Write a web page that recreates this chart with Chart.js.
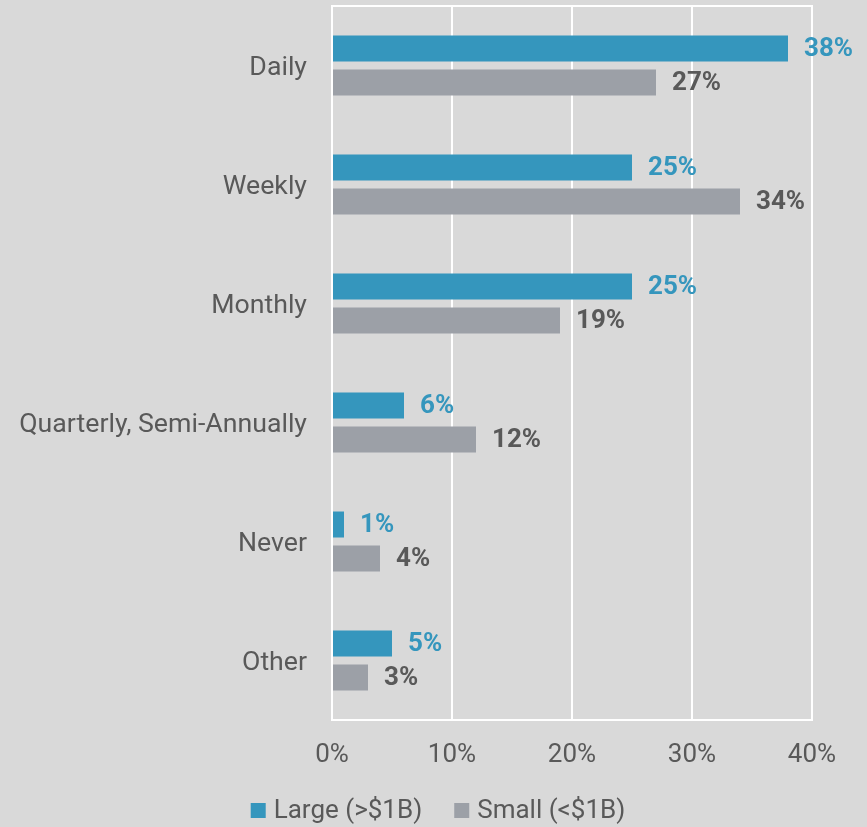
<!DOCTYPE html>
<html>
<head>
<meta charset="utf-8">
<script src="https://cdn.jsdelivr.net/npm/chart.js@4"></script>
<style>
  html, body { margin: 0; padding: 0; background: #d9d9d9; }
  #wrap { width: 867px; height: 827px; }
</style>
</head>
<body>
<div id="wrap"><canvas id="c" width="867" height="827"></canvas></div>
<script>
const categories = ['Daily', 'Weekly', 'Monthly', 'Quarterly, Semi-Annually', 'Never', 'Other'];
const largeValues = [38, 25, 25, 6, 1, 5];
const smallValues = [27, 34, 19, 12, 4, 3];
const seriesNames = ['Large (>$1B)', 'Small (<$1B)'];
const xTicks = [0, 10, 20, 30, 40];

const FONT = 'Roboto, "Noto Sans", sans-serif';
const TEXT = '#595959';
const BLUE = '#3596bd';
const GREY = '#9ca0a7';

// Writes each bar's value at its right end, in the series colour.
const valueLabels = {
  id: 'valueLabels',
  afterDatasetsDraw(chart) {
    const ctx = chart.ctx;
    ctx.save();
    ctx.font = 'bold 26px ' + FONT;
    ctx.textBaseline = 'middle';
    ctx.textAlign = 'left';
    chart.data.datasets.forEach((ds, di) => {
      const meta = chart.getDatasetMeta(di);
      meta.data.forEach((bar, i) => {
        ctx.fillStyle = ds.labelColor;
        ctx.fillText(Math.round(ds.data[i]) + '%', bar.x + 16, bar.y + 1);
      });
    });
    ctx.restore();
  }
};

// White frame round the plot area.
const plotFrame = {
  id: 'plotFrame',
  beforeDatasetsDraw(chart) {
    const { ctx, chartArea: a } = chart;
    ctx.save();
    ctx.strokeStyle = '#ffffff';
    ctx.lineWidth = 2;
    ctx.strokeRect(a.left, a.top, a.right - a.left, a.bottom - a.top);
    ctx.restore();
  }
};

// Legend row under the axis: square swatch, then the series name.
const bottomLegend = {
  id: 'bottomLegend',
  afterDraw(chart) {
    const ctx = chart.ctx;
    const box = 15, gap = 8, between = 32;
    ctx.save();
    ctx.font = '26px ' + FONT;
    ctx.textBaseline = 'middle';
    ctx.textAlign = 'left';
    const items = chart.data.datasets.map(ds => ({ text: ds.label, color: ds.backgroundColor, w: ctx.measureText(ds.label).width }));
    const total = items.reduce((s, it) => s + box + gap + it.w, 0) + between * (items.length - 1);
    let x = 438 - total / 2;
    const cy = 810.5;
    items.forEach(it => {
      ctx.fillStyle = it.color;
      ctx.fillRect(x, cy - box / 2, box, box);
      ctx.fillStyle = TEXT;
      ctx.fillText(it.text, x + box + gap, cy + 1);
      x += box + gap + it.w + between;
    });
    ctx.restore();
  }
};

new Chart(document.getElementById('c'), {
  type: 'bar',
  data: {
    labels: categories,
    datasets: [
      { label: seriesNames[0], data: largeValues, backgroundColor: BLUE, labelColor: BLUE,
        categoryPercentage: 0.571, barPercentage: 0.765 },
      { label: seriesNames[1], data: smallValues, backgroundColor: GREY, labelColor: TEXT,
        categoryPercentage: 0.571, barPercentage: 0.765 }
    ]
  },
  options: {
    indexAxis: 'y',
    responsive: false,
    animation: false,
    layout: { padding: { top: 6, right: 55, left: 0, bottom: 50 } },
    scales: {
      x: {
        min: 0, max: 40,
        afterBuildTicks(scale) { scale.ticks = xTicks.map(v => ({ value: v })); },
        grid: { color: '#ffffff', lineWidth: 2, drawTicks: false },
        border: { display: false },
        ticks: { color: TEXT, font: { family: FONT, size: 26 }, padding: 20,
                 callback: v => v + '%' },
        afterFit(scale) { scale.height = 57; scale.paddingLeft = 0; scale.paddingRight = 0; }
      },
      y: {
        grid: { display: false, drawTicks: false },
        border: { display: false },
        ticks: { color: TEXT, font: { family: FONT, size: 26.7 }, padding: 25, labelOffset: 3 },
        afterFit(scale) { scale.width = 332; scale.paddingTop = 0; scale.paddingBottom = 0; }
      }
    },
    plugins: {
      legend: { display: false },
      tooltip: { enabled: false }
    }
  },
  plugins: [plotFrame, valueLabels, bottomLegend]
});
</script>
</body>
</html>
